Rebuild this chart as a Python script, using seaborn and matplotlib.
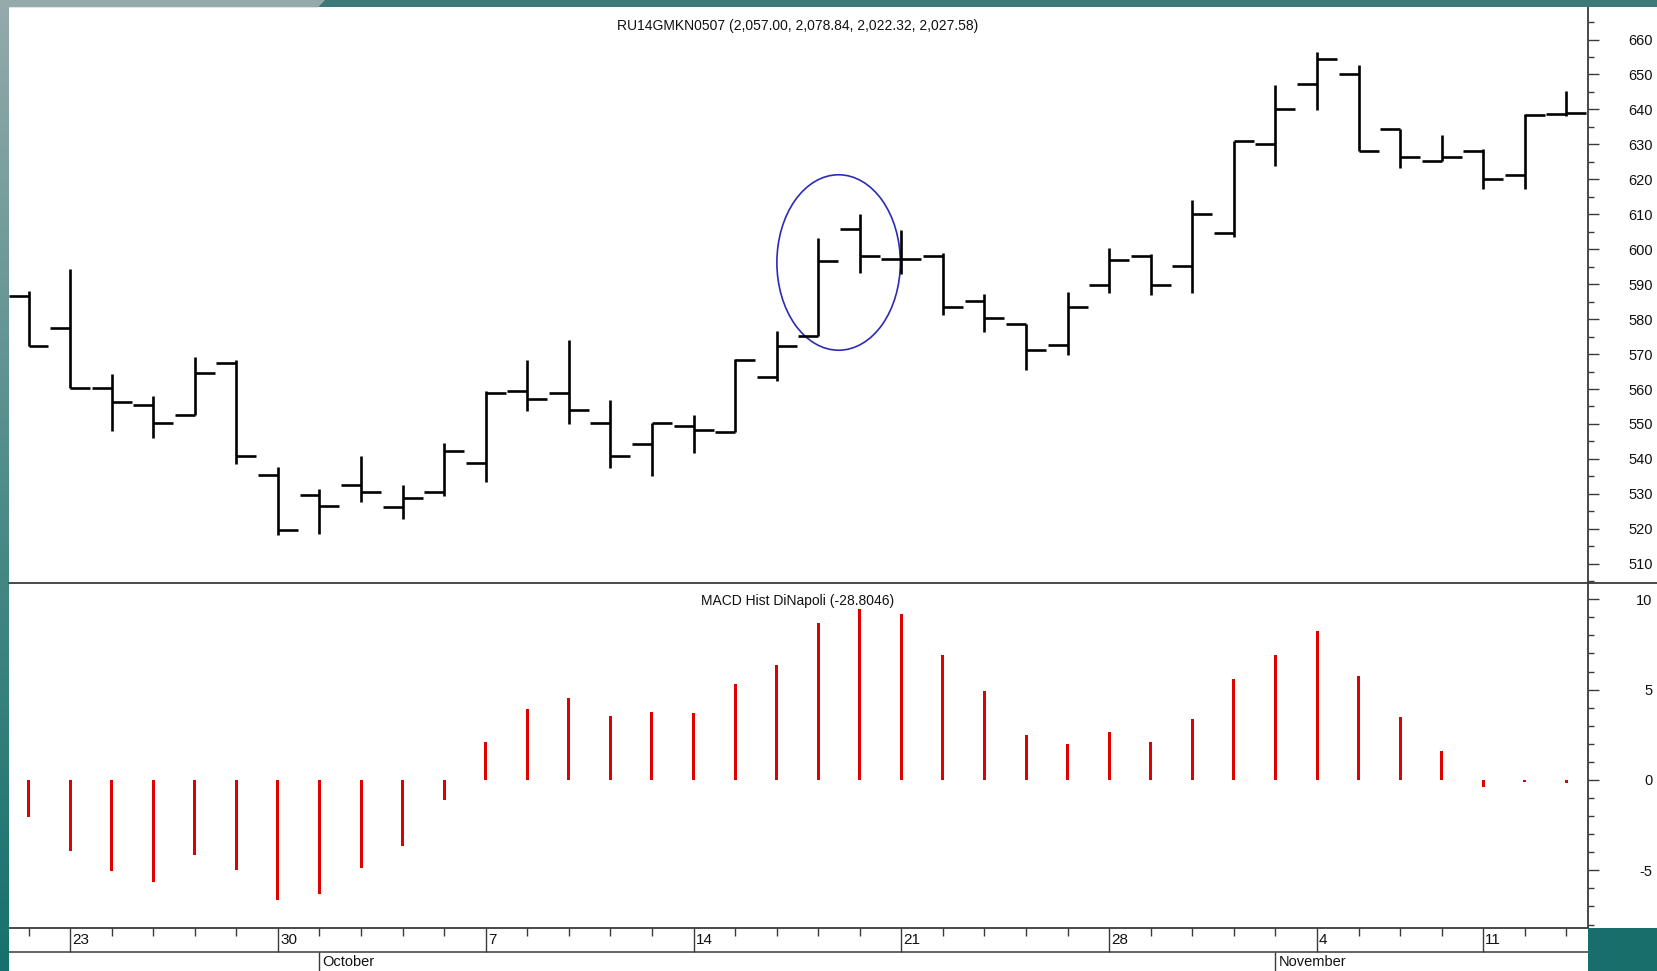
import numpy as np
import matplotlib
matplotlib.use("Agg")
import matplotlib.pyplot as plt
import seaborn as sns
from matplotlib.patches import Ellipse, Polygon, Rectangle
from matplotlib.lines import Line2D
from matplotlib.colors import LinearSegmentedColormap

# daily bars, 20 Sep .. 13 Nov
opens = [586.6, 577.4, 560.4, 555.4, 552.5, 567.5, 535.5, 529.7, 532.6, 526.2,
         530.4, 538.8, 559.4, 558.8, 550.3, 544.4, 549.4, 547.8, 563.4, 575.3,
         605.9, 597.1, 598.2, 585.1, 578.5, 572.7, 589.7, 598.2, 595.2, 604.5,
         630.2, 647.2, 650.1, 634.4, 625.2, 628.2, 621.2, 638.8]
highs = [588.1, 594.3, 564.2, 558.0, 569.2, 568.4, 537.7, 531.5, 540.7, 532.6,
         544.6, 559.3, 568.4, 574.0, 556.9, 550.4, 552.7, 568.6, 576.6, 603.2,
         610.0, 605.6, 599.0, 587.2, 578.5, 587.8, 600.3, 598.5, 614.1, 631.0,
         647.0, 656.5, 652.7, 634.4, 632.7, 628.6, 638.6, 645.4]
lows = [572.4, 560.4, 548.1, 545.9, 552.5, 538.5, 518.3, 518.5, 527.6, 522.9,
        529.5, 533.3, 553.6, 550.0, 537.5, 535.2, 541.7, 547.8, 562.3, 575.3,
        593.2, 592.9, 581.3, 576.2, 565.3, 569.7, 587.5, 587.0, 587.5, 603.6,
        623.9, 639.9, 628.0, 623.1, 625.1, 617.1, 617.1, 638.0]
closes = [572.4, 560.4, 556.4, 550.3, 564.5, 540.7, 519.6, 526.4, 530.4, 528.9,
          542.4, 558.8, 557.2, 553.9, 540.7, 550.4, 548.4, 568.4, 572.4, 596.5,
          598.2, 597.1, 583.4, 580.4, 571.3, 583.4, 597.0, 589.7, 610.0, 631.0,
          640.1, 654.3, 628.0, 626.3, 626.3, 620.1, 638.4, 639.0]
macd_hist = [-2.03, -3.93, -5.04, -5.66, -4.15, -4.98, -6.64, -6.31, -4.89, -3.63,
             -1.11, 2.09, 3.91, 4.56, 3.56, 3.76, 3.73, 5.31, 6.36, 8.67,
             9.45, 9.17, 6.92, 4.93, 2.49, 1.97, 2.67, 2.12, 3.36, 5.57,
             6.92, 8.26, 5.77, 3.50, 1.62, -0.37, -0.12, -0.15]

day_ticks = [1, 6, 11, 16, 21, 26, 31, 35]
day_labels = ["23", "30", "7", "14", "21", "28", "4", "11"]
month_ticks = [7, 30]
month_labels = ["October", "November"]

price_title = "RU14GMKN0507 (2,057.00, 2,078.84, 2,022.32, 2,027.58)"
macd_title = "MACD Hist DiNapoli (-28.8046)"

sns.set_theme(style="white")
plt.rcParams["font.family"] = ["Liberation Sans", "DejaVu Sans"]
plt.rcParams["axes.unicode_minus"] = False

W, H = 1658, 971
fig = plt.figure(figsize=(W / 100, H / 100), dpi=100)
fig.patch.set_facecolor("white")


def box(x0, y0, x1, y1):
    # pixel box (top-left origin) -> figure fraction rect
    return [x0 / W, 1 - y1 / H, (x1 - x0) / W, (y1 - y0) / H]


ax_p = fig.add_axes(box(9, 7, 1588, 583))
ax_m = fig.add_axes(box(9, 583, 1588, 928))
ax_d = fig.add_axes(box(9, 928, 1588, 971))

idx = np.arange(len(opens))
xlim = (-0.47, 37.52)
axis_col = "#3a3a3a"

# --- price bars
lw = 1.9
ax_p.vlines(idx, lows, highs, color="black", lw=lw)
ax_p.hlines(opens, idx - 0.48, idx, color="black", lw=lw)
ax_p.hlines(closes, idx, idx + 0.48, color="black", lw=lw)
ax_p.add_patch(Ellipse((19.49, 596.2), 2.97, 50.2, fill=False,
                       edgecolor="#2b2bb5", lw=1.2))
ax_p.set_xlim(*xlim)
ax_p.set_ylim(504.5, 669.3)
ax_p.set_yticks(np.arange(510, 661, 10))
ax_p.set_yticks(np.arange(505, 670, 5), minor=True)

# --- MACD histogram (bars ~3 px wide)
sns.barplot(x=idx, y=macd_hist, native_scale=True, width=0.0722,
            color="#e00000", saturation=1, linewidth=0, ax=ax_m)
ax_m.set_xlim(*xlim)
ax_m.set_ylim(-8.19, 10.9)
ax_m.set_yticks([-5, 0, 5, 10])
ax_m.set_yticks(np.arange(-8, 11, 1), minor=True)
ax_m.set_xlabel("")
ax_m.set_ylabel("")

for ax in (ax_p, ax_m):
    ax.set_facecolor("white")
    ax.set_xticks([])
    ax.yaxis.tick_right()
    ax.tick_params(axis="y", which="major", direction="out", length=8,
                   width=1, color=axis_col, pad=38.5, labelsize=10.5,
                   labelcolor="#111111")
    ax.tick_params(axis="y", which="minor", direction="out", length=4.3,
                   width=1, color=axis_col)
    ax.tick_params(axis="y", which="both", left=False)
    for t in ax.get_yticklabels():
        t.set_horizontalalignment("right")
    for s in ("left", "top", "bottom"):
        ax.spines[s].set_visible(False)
    ax.spines["right"].set_color(axis_col)
    ax.spines["right"].set_linewidth(1.3)

# --- date strip
ax_d.set_xlim(*xlim)
ax_d.set_ylim(0, 1)
ax_d.set_xticks([])
ax_d.set_yticks([])
for s in ("left", "bottom", "right"):
    ax_d.spines[s].set_visible(False)
ax_d.spines["top"].set_color(axis_col)
ax_d.spines["top"].set_linewidth(1.3)
mid = (971 - 951.5) / 43
ax_d.axhline(mid, color=axis_col, lw=1.1)
minor_days = [i for i in idx if i not in day_ticks]
ax_d.vlines(minor_days, 1 - 7.5 / 43, 1, color=axis_col, lw=1)
ax_d.vlines(day_ticks, mid, 1, color=axis_col, lw=1)
ax_d.vlines(month_ticks, 0, mid, color=axis_col, lw=1)
for x, lab in zip(day_ticks, day_labels):
    ax_d.text(x + 0.05, 0.72, lab, ha="left", va="center", fontsize=11,
              color="#111111")
for x, lab in zip(month_ticks, month_labels):
    ax_d.text(x + 0.07, 0.2, lab, ha="left", va="center", fontsize=10.5,
              color="#111111")

# --- titles
fig.text(798 / W, 1 - 26 / H, price_title, ha="center", va="center",
         fontsize=10, color="#111111")
fig.text(798 / W, 1 - 601 / H, macd_title, ha="center", va="center",
         fontsize=10, color="#111111")

# separator between panels, runs across the label area too
fig.add_artist(Line2D([9 / W, 1], [1 - 583 / H, 1 - 583 / H],
                      color=axis_col, lw=1.3, transform=fig.transFigure))

# --- slide frame decoration
fig.add_artist(Rectangle((0, 1 - 7.3 / H), 1, 7.3 / H, color="#3c7977",
                         transform=fig.transFigure, lw=0))
fig.add_artist(Polygon([(0, 1), (325 / W, 1), (318 / W, 1 - 7.3 / H),
                        (0, 1 - 7.3 / H)], closed=True, color="#95aaab",
                       transform=fig.transFigure, lw=0))
fig.add_artist(Rectangle((1588 / W, 0), 70 / W, 43 / H, color="#176e6b",
                         transform=fig.transFigure, lw=0))
ax_l = fig.add_axes(box(0, 0, 9, 971))
cmap = LinearSegmentedColormap.from_list("edge", ["#95aaab", "#4f8c8a", "#17706d"])
ax_l.imshow(np.linspace(0, 1, 256).reshape(-1, 1), aspect="auto", cmap=cmap)
ax_l.set_axis_off()

fig.savefig("out.png", dpi=100)
